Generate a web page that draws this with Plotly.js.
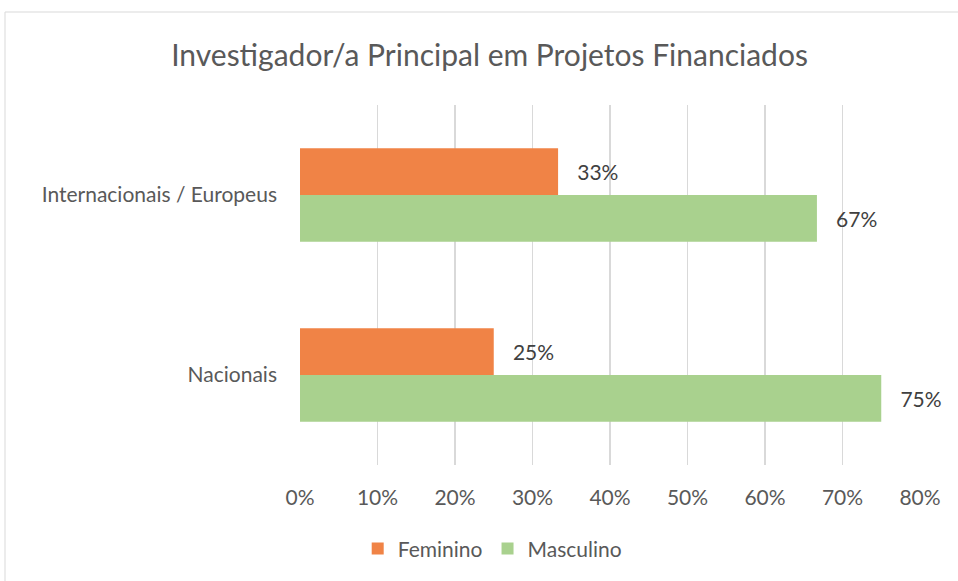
<!DOCTYPE html>
<html>
<head>
<meta charset="utf-8">
<script src="https://cdn.plot.ly/plotly-3.0.1.min.js"></script>
<style>html,body{margin:0;padding:0;background:#fff;}#chart{width:958px;height:581px;}</style>
</head>
<body>
<div id="chart"></div>
<script>
const categories = ["Internacionais / Europeus", "Nacionais"];
const feminino = [0.333, 0.25];
const masculino = [0.667, 0.75];
const seriesNames = ["Feminino", "Masculino"];
const xTickVals = [0, 0.1, 0.2, 0.3, 0.4, 0.5, 0.6, 0.7, 0.8];

const font = "Lato, 'Open Sans', sans-serif";
const labelTpl = "\u00a0\u00a0\u00a0%{x:.0%}";
const traces = [
  {type: "bar", orientation: "h", name: seriesNames[0], y: categories, x: feminino,
   marker: {color: "#f08346"}, texttemplate: labelTpl, textposition: "outside",
   textfont: {family: font, size: 21, color: "#404040"}, cliponaxis: false},
  {type: "bar", orientation: "h", name: seriesNames[1], y: categories, x: masculino,
   marker: {color: "#a9d18e"}, texttemplate: labelTpl, textposition: "outside",
   textfont: {family: font, size: 21, color: "#404040"}, cliponaxis: false}
];

const layout = {
  width: 958, height: 581,
  margin: {l: 300, r: 38, t: 105, b: 116},
  paper_bgcolor: "#fff", plot_bgcolor: "#fff",
  font: {family: font, color: "#595959", size: 21},
  title: {text: "Investigador/a Principal em Projetos Financiados",
          font: {family: font, size: 30, color: "#595959"},
          xref: "container", x: 0.511, yref: "container", y: 0.905, yanchor: "middle"},
  barmode: "group", bargap: 0.48, bargroupgap: 0,
  xaxis: {range: [0, 0.8], tickvals: xTickVals, tickformat: ".0%",
          showgrid: true, gridcolor: "#d9d9d9", gridwidth: 1.5,
          zeroline: false, showline: false, ticks: "", ticklabelstandoff: 18,
          tickfont: {family: font, size: 21, color: "#595959"}, fixedrange: true},
  yaxis: {categoryorder: "array", categoryarray: categories, autorange: "reversed",
          showgrid: false, zeroline: false, showline: false, ticks: "", ticklabelstandoff: 22,
          tickfont: {family: font, size: 21, color: "#595959"}},
  showlegend: true,
  legend: {orientation: "h", x: 0.31, xanchor: "center", y: -0.233, yanchor: "middle",
           font: {family: font, size: 21, color: "#595959"}, itemwidth: 30},
  shapes: [{type: "rect", xref: "paper", yref: "paper",
            x0: (5 - 300) / 620, x1: 2, y0: -0.6, y1: (465 - 12) / 360,
            line: {color: "#d9d9d9", width: 1}, fillcolor: "rgba(0,0,0,0)", layer: "below"}]
};

Plotly.newPlot("chart", traces, layout, {displayModeBar: false, staticPlot: true});
</script>
</body>
</html>
